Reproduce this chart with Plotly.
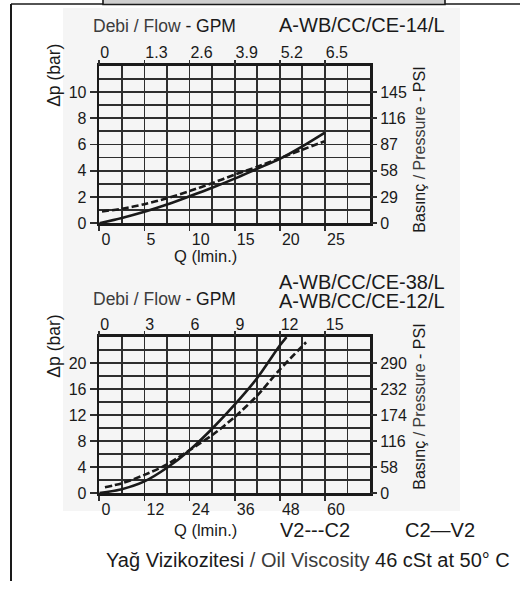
import plotly.graph_objects as go

# ---------------- data ----------------
# top chart: A-WB/CC/CE-14/L
q_top_solid = [0, 2.5, 5, 7.5, 10, 12.5, 15, 17.5, 20, 22.5, 25]
dp_top_solid = [0, 0.4, 0.87, 1.42, 2.05, 2.7, 3.4, 4.15, 4.9, 5.85, 6.9]
q_top_dash = [0.3, 2.5, 5, 7.5, 10, 12.5, 15, 17.5, 20, 22.5, 25]
dp_top_dash = [0.9, 1.1, 1.45, 1.9, 2.45, 3.05, 3.7, 4.3, 4.95, 5.6, 6.25]

# bottom chart: A-WB/CC/CE-38/L, A-WB/CC/CE-12/L
q_bot_solid = [0, 6, 12, 18, 24, 30, 36, 42, 48, 49.8]
dp_bot_solid = [0, 0.6, 1.8, 3.9, 6.6, 9.9, 13.6, 17.7, 22.7, 24]
q_bot_dash = [1.5, 6, 12, 18, 24, 30, 36, 42, 48, 55]
dp_bot_dash = [0.9, 1.5, 2.8, 4.4, 6.6, 8.9, 11.7, 15.0, 19.0, 23.2]

# axis ticks
top_q_ticks = [0, 5, 10, 15, 20, 25]
top_gpm_labels = ["0", "1.3", "2.6", "3.9", "5.2", "6.5"]
top_bar_ticks = [0, 2, 4, 6, 8, 10]
top_psi_ticks = [0, 29, 58, 87, 116, 145]

bot_q_ticks = [0, 12, 24, 36, 48, 60]
bot_gpm_labels = ["0", "3", "6", "9", "12", "15"]
bot_bar_ticks = [0, 4, 8, 12, 16, 20]
bot_psi_ticks = [0, 58, 116, 174, 232, 290]

# ---------------- figure ----------------
W, H = 520, 590
FONT = "Liberation Sans"
INK = "#1a1a1a"
GRID = "#2e2e2e"


def px(x):
    return x / W


def py(y):
    return 1 - y / H


xdom = [px(99.3), px(370)]
ydom_top = [py(226.7), py(66.7)]
ydom_bot = [py(500.7), py(342.3)]

fig = go.Figure()

line_solid = dict(color=INK, width=2.6, shape="spline", smoothing=0.8)
line_dash = dict(color=INK, width=2.6, shape="spline", smoothing=0.8, dash="7px,3px")

fig.add_trace(go.Scatter(x=q_top_solid, y=dp_top_solid, mode="lines", line=line_solid,
                         xaxis="x", yaxis="y", showlegend=False, name="C2—V2"))
fig.add_trace(go.Scatter(x=q_top_dash, y=dp_top_dash, mode="lines", line=line_dash,
                         xaxis="x", yaxis="y", showlegend=False, name="V2---C2"))
fig.add_trace(go.Scatter(x=[None], y=[None], xaxis="x2", yaxis="y2", showlegend=False,
                         hoverinfo="skip"))
fig.add_trace(go.Scatter(x=q_bot_solid, y=dp_bot_solid, mode="lines", line=line_solid,
                         xaxis="x3", yaxis="y3", showlegend=False, name="C2—V2"))
fig.add_trace(go.Scatter(x=q_bot_dash, y=dp_bot_dash, mode="lines", line=line_dash,
                         xaxis="x3", yaxis="y3", showlegend=False, name="V2---C2"))
fig.add_trace(go.Scatter(x=[None], y=[None], xaxis="x4", yaxis="y4", showlegend=False,
                         hoverinfo="skip"))

tickfont = dict(family=FONT, size=16, color=INK)


def xmain(rng, ticks, minor, anchor):
    return dict(domain=xdom, range=rng, tickvals=ticks, ticks="outside", ticklen=5,
                tickwidth=1.8, tickcolor=GRID, tickfont=tickfont,
                ticklabelposition="outside right",
                showgrid=True, gridcolor=GRID, gridwidth=1.8,
                minor=dict(dtick=minor, tick0=0, showgrid=True, gridcolor=GRID, gridwidth=1.8),
                showline=True, linecolor=INK, linewidth=2.6, mirror=True,
                zeroline=False, anchor=anchor, fixedrange=True)


def xtop(rng, ticks, labels, over, anchor):
    return dict(domain=xdom, range=rng, tickvals=ticks, ticktext=labels, side="top",
                overlaying=over, anchor=anchor, ticks="outside", ticklen=5, tickwidth=1.8,
                tickcolor=GRID, tickfont=tickfont, ticklabelposition="outside right",
                showgrid=False, showline=False, zeroline=False, fixedrange=True)


def yleft(dom, rng, ticks, minor, anchor):
    return dict(domain=dom, range=rng, tickvals=ticks, ticks="outside", ticklen=7,
                tickwidth=1.8, tickcolor=GRID, tickfont=tickfont,
                showgrid=True, gridcolor=GRID, gridwidth=1.8,
                minor=dict(dtick=minor, tick0=0, showgrid=True, gridcolor=GRID, gridwidth=1.8),
                showline=True, linecolor=INK, linewidth=2.6, mirror=True,
                zeroline=False, anchor=anchor, fixedrange=True)


def yright(dom, rng, ticks, over, anchor):
    return dict(domain=dom, range=rng, tickvals=ticks, side="right", overlaying=over,
                anchor=anchor, ticks="outside", ticklen=6, tickwidth=1.8, tickcolor=GRID,
                tickfont=tickfont, showgrid=False, showline=False, zeroline=False,
                fixedrange=True)


fig.update_layout(
    width=W, height=H, autosize=False, margin=dict(l=0, r=0, t=0, b=0),
    paper_bgcolor="white", plot_bgcolor="rgba(0,0,0,0)",
    font=dict(family=FONT, color=INK),
    xaxis=xmain([0, 30], top_q_ticks, 2.5, "y"),
    xaxis2=xtop([0, 30], top_q_ticks, top_gpm_labels, "x", "y"),
    yaxis=yleft(ydom_top, [0, 12], top_bar_ticks, 1, "x"),
    yaxis2=yright(ydom_top, [0, 174], top_psi_ticks, "y", "x"),
    xaxis3=xmain([0, 72], bot_q_ticks, 6, "y3"),
    xaxis4=xtop([0, 72], bot_q_ticks, bot_gpm_labels, "x3", "y3"),
    yaxis3=yleft(ydom_bot, [0, 24], bot_bar_ticks, 2, "x3"),
    yaxis4=yright(ydom_bot, [0, 348], bot_psi_ticks, "y3", "x3"),
)

# background panel and frame
shapes = [
    dict(type="rect", xref="paper", yref="paper", x0=px(63), x1=px(460), y0=py(519), y1=py(8),
         fillcolor="#f5f5f5", line=dict(width=0), layer="below"),
    dict(type="line", xref="paper", yref="paper", x0=px(11), x1=px(11), y0=py(4), y1=py(590),
         line=dict(color=INK, width=2)),
    dict(type="line", xref="paper", yref="paper", x0=px(11), x1=px(520), y0=py(4), y1=py(4),
         line=dict(color=INK, width=1.6)),
    dict(type="rect", xref="paper", yref="paper", x0=px(103), x1=px(445), y0=py(4.5), y1=py(-3),
         fillcolor="#cfcfcf", line=dict(color=INK, width=1.6)),
]
fig.update_layout(shapes=shapes)


def ann(text, x, y, size, angle=0):
    return dict(text=text, x=px(x), y=py(y), xref="paper", yref="paper", showarrow=False,
                xanchor="center", yanchor="middle", textangle=angle,
                font=dict(family=FONT, size=size, color=INK))


LIGHT = "#3c3c3c"
annotations = [
    ann(f'<span style="color:{LIGHT}">Debi / Flow</span> - GPM', 164, 26.5, 17.5),
    ann("A-WB/CC/CE-14/L", 362, 25, 20),
    ann("Q (lmin.)", 205, 260, 16.5),
    ann("Δp (bar)", 54, 77, 17.5, -90),
    ann(f'Basınç <span style="color:{LIGHT}">/ Pressure</span> - PSI', 420, 152, 16, -90),
    ann("A-WB/CC/CE-38/L", 362, 286.5, 20),
    ann("A-WB/CC/CE-12/L", 362, 305.5, 20),
    ann(f'<span style="color:{LIGHT}">Debi / Flow</span> - GPM', 164, 303.5, 17.5),
    ann("Δp (bar)", 54, 352, 17.5, -90),
    ann(f'Basınç <span style="color:{LIGHT}">/ Pressure</span> - PSI', 420, 413, 16, -90),
    ann("Q (lmin.)", 205, 538, 16.5),
    ann("V2---C2", 315, 538, 20),
    ann("C2—V2", 440, 538, 20),
    ann(f'Yağ Vizikozitesi <span style="color:{LIGHT}">/ Oil Viscosity</span> 46 cSt at 50° C',
        307.5, 569, 20),
]
fig.update_layout(annotations=annotations)

post = (
    "var h=document.documentElement, b=document.body;"
    "h.style.margin='0';h.style.padding='0';h.style.overflow='hidden';"
    "h.style.height='590px';h.style.width='520px';"
    "b.style.margin='0';b.style.padding='0';b.style.overflow='hidden';"
    "b.style.height='590px';b.style.width='520px';"
    "var d=document.getElementById('{plot_id}');"
    "d.style.position='fixed';d.style.left='0px';d.style.top='0px';"
    "window.scrollTo(0,0);"
)

fig.write_html(
    "out.html",
    config={"responsive": False, "displayModeBar": False, "staticPlot": True},
    post_script=post,
)
